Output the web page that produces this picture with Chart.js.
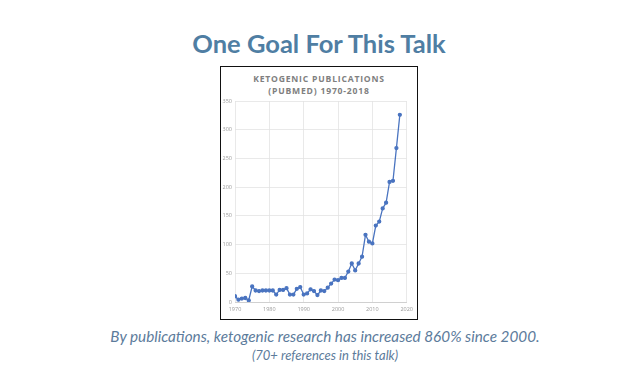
<!DOCTYPE html>
<html>
<head>
<meta charset="utf-8">
<script src="https://cdn.jsdelivr.net/npm/chart.js@4"></script>
<style>
    html, body { margin: 0; padding: 0; background: #fff; }
    body { width: 638px; height: 388px; position: relative; overflow: hidden; }
    .slide-title {
        position: absolute; left: 0; top: 28px; width: 638px; text-align: center;
        font-family: Lato, sans-serif; font-weight: 700; font-size: 25.5px; color: #4f7ea3;
    }
    .chart-box {
        position: absolute; left: 220px; top: 66px; width: 196px; height: 252px;
        border: 1.5px solid #111; background: #fff;
    }
    .chart-title {
        position: absolute; left: 0; top: 6px; width: 196px; text-align: center;
        font-family: "Open Sans", sans-serif; font-weight: 700; font-size: 8.6px;
        line-height: 12px; letter-spacing: 0.8px; color: #808080;
    }
    canvas { position: absolute; left: 0; top: 0; }
    .caption {
        position: absolute; left: 12px; width: 626px; text-align: center;
        font-family: Lato, sans-serif; font-style: italic; font-weight: 400; color: #5c7b9b;
    }
    .caption.main { top: 327px; font-size: 15.3px; }
    .caption.sub { top: 347px; font-size: 13px; }
</style>
</head>
<body>
<div class="slide-title">One Goal For This Talk</div>
<div class="chart-box">
    <div class="chart-title">KETOGENIC PUBLICATIONS<br>(PUBMED) 1970-2018</div>
    <canvas id="pubChart" width="196" height="252"></canvas>
</div>
<div class="caption main">By publications, ketogenic research has increased 860% since 2000.</div>
<div class="caption sub">(70+ references in this talk)</div>

<script>
    // publications per year
    var years = [1970, 1971, 1972, 1973, 1974, 1975, 1976, 1977, 1978, 1979,
                 1980, 1981, 1982, 1983, 1984, 1985, 1986, 1987, 1988, 1989,
                 1990, 1991, 1992, 1993, 1994, 1995, 1996, 1997, 1998, 1999,
                 2000, 2001, 2002, 2003, 2004, 2005, 2006, 2007, 2008, 2009,
                 2010, 2011, 2012, 2013, 2014, 2015, 2016, 2017, 2018];
    var publications = [10, 4, 6, 7, 3, 27, 20, 19, 20, 20,
                        20, 20, 13, 21, 21, 24, 13, 13, 23, 26,
                        13, 15, 22, 19, 12, 20, 19, 25, 32, 39,
                        38, 42, 42, 53, 67, 55, 67, 79, 117, 105,
                        102, 133, 140, 163, 173, 209, 211, 268, 326];
    var xTicks = [1970, 1980, 1990, 2000, 2010, 2020];
    var yTicks = [0, 50, 100, 150, 200, 250, 300, 350];

    var points = years.map(function (yr, i) {
        return { x: yr, y: publications[i] };
    });

    var tickFont = { family: 'Open Sans', size: 5.5 };

    new Chart(document.getElementById('pubChart').getContext('2d'), {
        type: 'line',
        data: {
            datasets: [{
                label: 'Publications',
                data: points,
                borderColor: '#4a74c0',
                backgroundColor: '#4a74c0',
                borderWidth: 1.3,
                pointRadius: 1.5,
                pointHoverRadius: 1.5,
                tension: 0
            }]
        },
        options: {
            responsive: false,
            animation: false,
            layout: { padding: { top: 34, right: 10, bottom: 0, left: 0 } },
            plugins: { legend: { display: false }, tooltip: { enabled: false } },
            scales: {
                x: {
                    type: 'linear',
                    min: xTicks[0],
                    max: xTicks[xTicks.length - 1],
                    afterBuildTicks: function (axis) {
                        axis.ticks = xTicks.map(function (v) { return { value: v }; });
                    },
                    afterFit: function (axis) { axis.height = 17; },
                    grid: { color: '#e3e3e3', lineWidth: 0.8, drawTicks: false },
                    border: { color: '#d0d0d0' },
                    ticks: { font: tickFont, color: '#9a9a9a', padding: 4, maxRotation: 0,
                             callback: function (v) { return String(v); } }
                },
                y: {
                    min: yTicks[0],
                    max: yTicks[yTicks.length - 1],
                    afterBuildTicks: function (axis) {
                        axis.ticks = yTicks.map(function (v) { return { value: v }; });
                    },
                    afterFit: function (axis) { axis.width = 14; },
                    grid: { color: '#e3e3e3', lineWidth: 0.8, drawTicks: false },
                    border: { display: false },
                    ticks: { font: tickFont, color: '#9a9a9a', padding: 3 }
                }
            }
        }
    });
</script>
</body>
</html>
